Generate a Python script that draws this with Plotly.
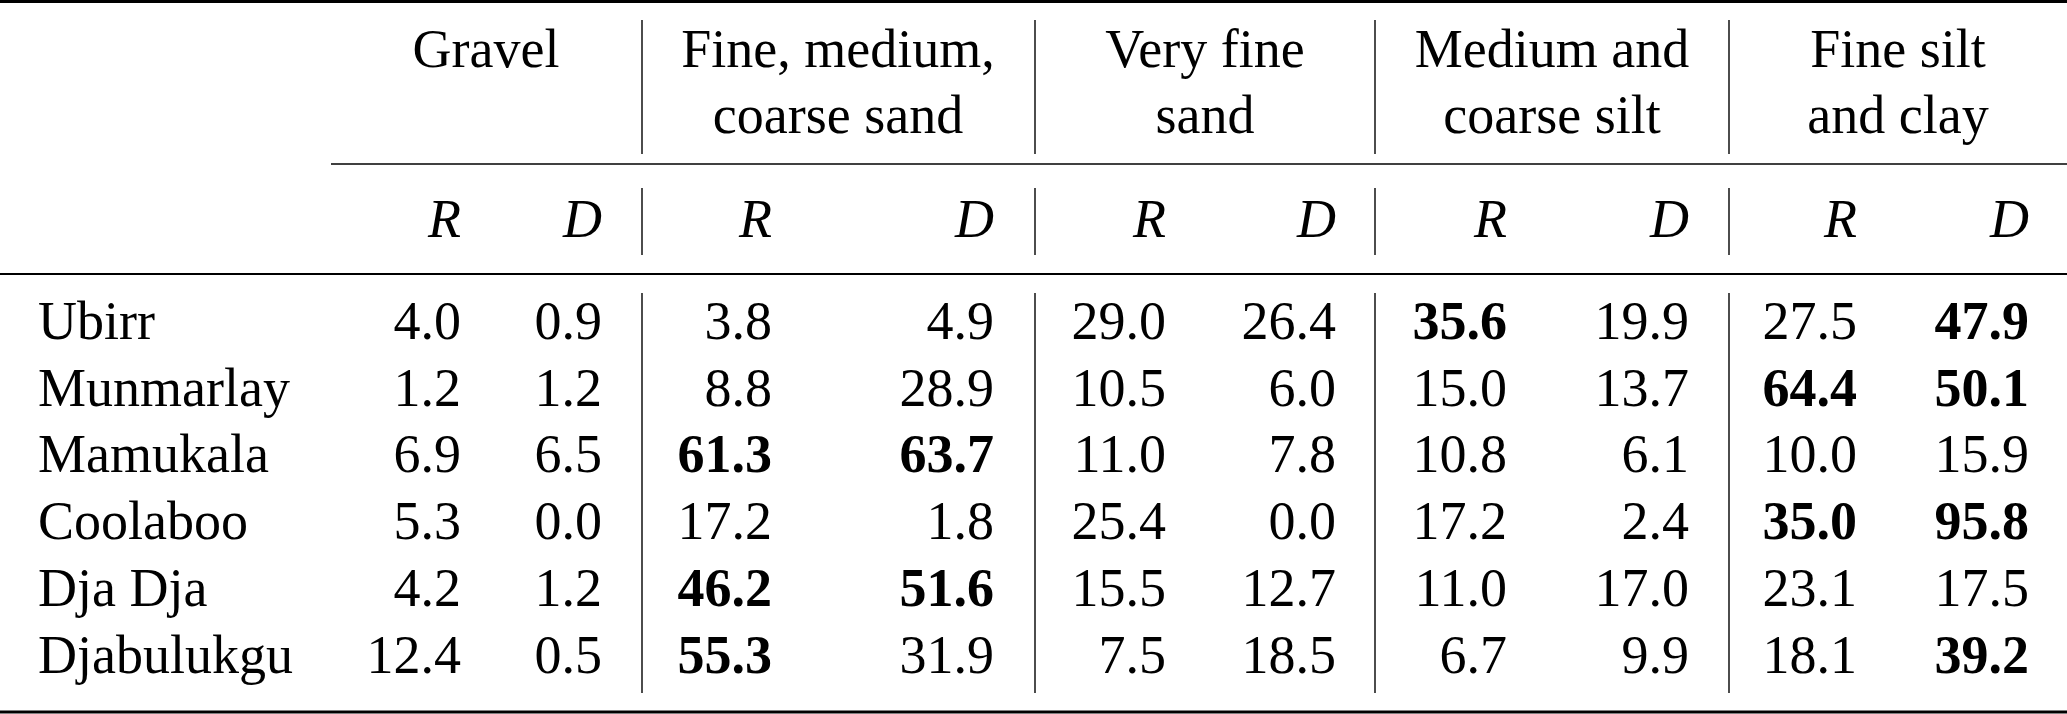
import plotly.graph_objects as go

# table content
sites = ['Ubirr', 'Munmarlay', 'Mamukala', 'Coolaboo', 'Dja Dja', 'Djabulukgu']
fractions = [['Gravel'],
             ['Fine, medium,', 'coarse sand'],
             ['Very fine', 'sand'],
             ['Medium and', 'coarse silt'],
             ['Fine silt', 'and clay']]
sub_labels = ['R', 'D']

gravel_r = [4.0, 1.2, 6.9, 5.3, 4.2, 12.4]
gravel_d = [0.9, 1.2, 6.5, 0.0, 1.2, 0.5]
sand_r = [3.8, 8.8, 61.3, 17.2, 46.2, 55.3]
sand_d = [4.9, 28.9, 63.7, 1.8, 51.6, 31.9]
vfsand_r = [29.0, 10.5, 11.0, 25.4, 15.5, 7.5]
vfsand_d = [26.4, 6.0, 7.8, 0.0, 12.7, 18.5]
silt_r = [35.6, 15.0, 10.8, 17.2, 11.0, 6.7]
silt_d = [19.9, 13.7, 6.1, 2.4, 17.0, 9.9]
clay_r = [27.5, 64.4, 10.0, 35.0, 23.1, 18.1]
clay_d = [47.9, 50.1, 15.9, 95.8, 17.5, 39.2]

columns = [gravel_r, gravel_d, sand_r, sand_d, vfsand_r, vfsand_d,
           silt_r, silt_d, clay_r, clay_d]

# layout in pixels (axes run 0..W and 0..H, y downwards)
W, H = 2067, 714
FS = 54
FONT = 'Liberation Serif'
col_right = [461, 602, 772, 994, 1166, 1336, 1507, 1689, 1857, 2029]
group_center = [486, 838, 1205, 1552, 1898]
vlines_x = [642, 1035, 1375, 1729]
label_x = 38
head_base = [67, 133]
sub_base = 237
row_base0 = 339
row_step = 66.7


def ypos(baseline):
    # plotly puts the baseline 0.25 em below the point for "middle" text
    return baseline - 0.25 * FS


fig = go.Figure()

# group headers
hx, hy, ht = [], [], []
for g, lines in enumerate(fractions):
    for k, line in enumerate(lines):
        hx.append(group_center[g])
        hy.append(ypos(head_base[k]))
        ht.append(line)
fig.add_trace(go.Scatter(x=hx, y=hy, text=ht, mode='text', textposition='middle center',
                         textfont=dict(family=FONT, size=FS, color='black'), hoverinfo='skip'))

# R / D sub headers
fig.add_trace(go.Scatter(x=col_right, y=[ypos(sub_base)] * len(col_right),
                         text=['<i>%s</i>' % sub_labels[i % 2] for i in range(len(col_right))],
                         mode='text', textposition='middle left',
                         textfont=dict(family=FONT, size=FS, color='black'), hoverinfo='skip'))

# site names
row_y = [ypos(row_base0 + i * row_step) for i in range(len(sites))]
fig.add_trace(go.Scatter(x=[label_x] * len(sites), y=row_y, text=sites, mode='text',
                         textposition='middle right',
                         textfont=dict(family=FONT, size=FS, color='black'), hoverinfo='skip'))

# values, the largest R and largest D of each row in bold
for c, vals in enumerate(columns):
    same = columns[c % 2::2]
    txt = []
    for i, v in enumerate(vals):
        s = '%.1f' % v
        if v == max(col[i] for col in same):
            s = '<b>%s</b>' % s
        txt.append(s)
    fig.add_trace(go.Scatter(x=[col_right[c]] * len(vals), y=row_y, text=txt, mode='text',
                             textposition='middle left',
                             textfont=dict(family=FONT, size=FS, color='black'), hoverinfo='skip'))

# rules
shapes = [
    dict(type='line', x0=0, x1=W, y0=1.5, y1=1.5, line=dict(color='black', width=3)),
    dict(type='line', x0=331, x1=W, y0=164, y1=164, line=dict(color='black', width=1.6)),
    dict(type='line', x0=0, x1=W, y0=274, y1=274, line=dict(color='black', width=2)),
    dict(type='line', x0=0, x1=W, y0=712, y1=712, line=dict(color='black', width=3)),
]
for x in vlines_x:
    for y0, y1 in [(20, 154), (188, 255), (293, 693)]:
        shapes.append(dict(type='line', x0=x, x1=x, y0=y0, y1=y1,
                           line=dict(color='black', width=1.4)))

fig.update_layout(
    width=W, height=H,
    margin=dict(l=0, r=0, t=0, b=0),
    paper_bgcolor='white', plot_bgcolor='white',
    showlegend=False,
    xaxis=dict(range=[0, W], visible=False, fixedrange=True),
    yaxis=dict(range=[H, 0], visible=False, fixedrange=True),
    shapes=shapes,
)

fig.write_html("out.html", config={'displayModeBar': False},
               post_script="document.body.style.margin='0';")
